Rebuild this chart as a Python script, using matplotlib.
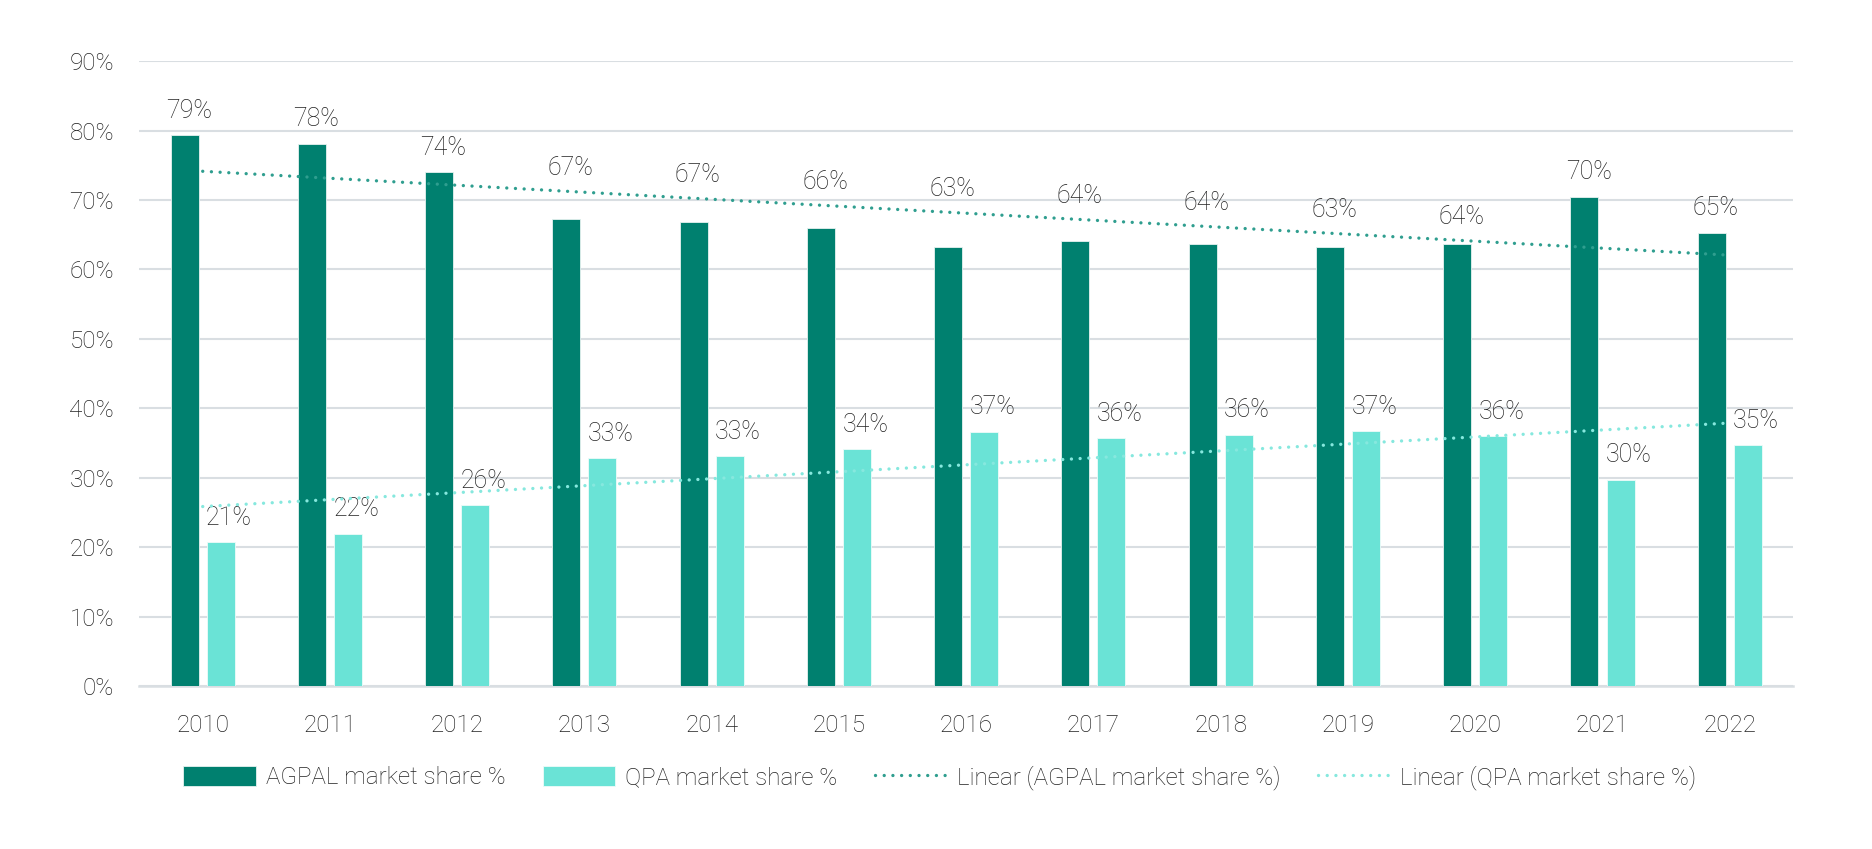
import numpy as np
import matplotlib
matplotlib.use("Agg")
import matplotlib.pyplot as plt
from matplotlib.ticker import MultipleLocator, FuncFormatter

# --- data ---
years = ["2010", "2011", "2012", "2013", "2014", "2015", "2016",
         "2017", "2018", "2019", "2020", "2021", "2022"]
agpal_share = [79.3, 78.1, 74.0, 67.2, 66.9, 65.9, 63.3, 64.1, 63.6, 63.3, 63.7, 70.5, 65.3]
qpa_share = [20.7, 21.9, 26.0, 32.8, 33.1, 34.1, 36.6, 35.7, 36.2, 36.7, 36.0, 29.7, 34.7]

# --- style ---
DARK = "#00806f"
LIGHT = "#6ae3d6"
DARK_TREND = "#2f9e8f"
LIGHT_TREND = "#86e8de"
GRID = "#d9dee2"
TEXT = "#222222"

plt.rcParams["font.family"] = ["Roboto", "DejaVu Sans"]

fig = plt.figure(figsize=(18.72, 8.49), dpi=100)
ax = fig.add_axes([0.0743, 0.192, 0.8837, 0.736])

x = np.arange(len(years))
bar_w = 0.22
off = 0.1415

b1 = ax.bar(x - off, agpal_share, width=bar_w, color=DARK, edgecolor="#e6f2f0",
            linewidth=0.6, label="AGPAL market share %", zorder=3)
b2 = ax.bar(x + off, qpa_share, width=bar_w, color=LIGHT, edgecolor="#eefbf9",
            linewidth=0.6, label="QPA market share %", zorder=3)

# linear trend lines (least squares, as in Excel)
a_fit = np.polyval(np.polyfit(x, agpal_share, 1), x)
q_fit = np.polyval(np.polyfit(x, qpa_share, 1), x)
l1, = ax.plot(x, a_fit, color=DARK_TREND, lw=2.4, dashes=[0.01, 2.6],
              dash_capstyle="round", label="Linear (AGPAL market share %)", zorder=4)
l2, = ax.plot(x, q_fit, color=LIGHT_TREND, lw=2.4, dashes=[0.01, 2.6],
              dash_capstyle="round", label="Linear (QPA market share %)", zorder=4)

# data labels (AGPAL labels sit above the trend line where it is higher)
for i in range(len(years)):
    ya = max(agpal_share[i], a_fit[i])
    ax.annotate(f"{agpal_share[i]:.0f}%", (x[i] - off, ya), xytext=(3, 9),
                textcoords="offset points", ha="center", va="bottom",
                fontsize=18, color=TEXT, fontweight="light")
    ax.annotate(f"{qpa_share[i]:.0f}%", (x[i] + off, qpa_share[i]), xytext=(6, 9),
                textcoords="offset points", ha="center", va="bottom",
                fontsize=18, color=TEXT, fontweight="light")

ax.set_xlim(-0.5, len(years) - 0.5)
ax.set_ylim(0, 90)
ax.yaxis.set_major_locator(MultipleLocator(10))
ax.yaxis.set_major_formatter(FuncFormatter(lambda v, p: f"{v:.0f}%"))
ax.set_xticks(x)
ax.set_xticklabels(years)

ax.grid(axis="y", color=GRID, lw=1.5, zorder=0)
for s in ["top", "right", "left"]:
    ax.spines[s].set_visible(False)
ax.spines["bottom"].set_color(GRID)
ax.spines["bottom"].set_linewidth(1.8)
ax.tick_params(axis="both", length=0, labelsize=17.5, labelcolor=TEXT)
ax.tick_params(axis="y", pad=18)
ax.tick_params(axis="x", pad=20)
for lab in ax.get_xticklabels() + ax.get_yticklabels():
    lab.set_fontweight("light")

leg = fig.legend([b1, b2, l1, l2],
                 ["AGPAL market share %", "QPA market share %",
                  "Linear (AGPAL market share %)", "Linear (QPA market share %)"],
                 loc="center", bbox_to_anchor=(0.502, 0.084),
                 ncol=4, frameon=False, fontsize=17.4, handlelength=3.0,
                 handleheight=0.85, handletextpad=0.4, columnspacing=1.55)
for t in leg.get_texts():
    t.set_color(TEXT)
    t.set_fontweight("light")

fig.savefig("out.png", dpi=100)
